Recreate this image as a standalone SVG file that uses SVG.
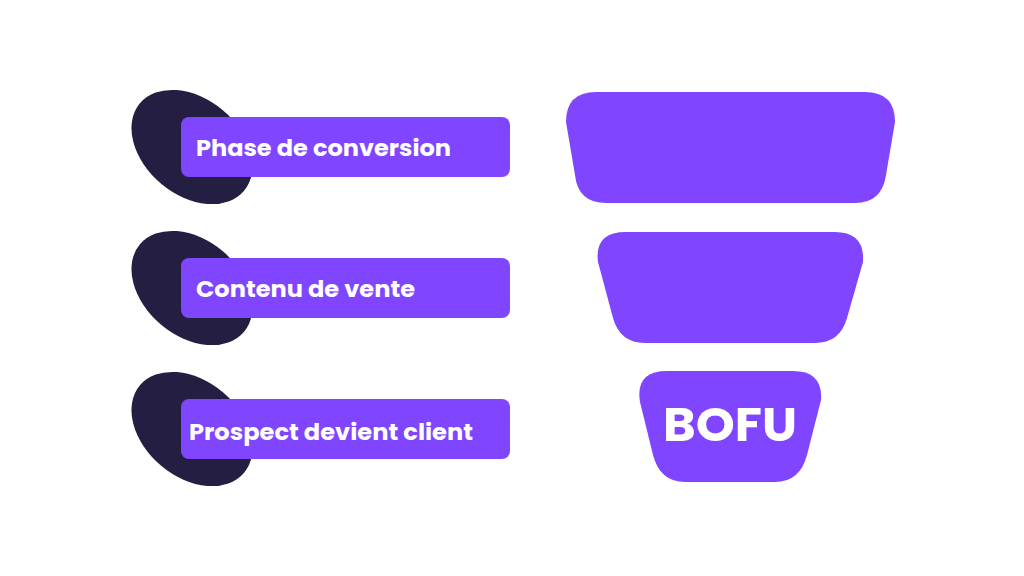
<svg xmlns="http://www.w3.org/2000/svg" width="1024" height="576" viewBox="0 0 1024 576">
<style>
.blob{fill:#241F42}
.lbl{fill:#8046FF}
.lt{fill:#fff;font-family:"Poppins","Open Sans","Liberation Sans",sans-serif;font-weight:700;font-size:22px}
.fun{fill:#8046FF}
.big{fill:#fff;font-family:"Poppins","Open Sans","Liberation Sans",sans-serif;font-weight:700;font-size:48px}
</style>
<rect width="1024" height="576" fill="#fff"/>
<g id="label1">
<ellipse class="blob" cx="192" cy="147" rx="68" ry="48" transform="rotate(40 192 147)"/>
<rect class="lbl" x="181" y="117" width="329" height="60" rx="8"/>
<text class="lt" x="196" y="156" textLength="255" lengthAdjust="spacingAndGlyphs">Phase de conversion</text>
</g>
<g id="label2">
<ellipse class="blob" cx="192" cy="288" rx="68" ry="48" transform="rotate(40 192 288)"/>
<rect class="lbl" x="181" y="258" width="329" height="60" rx="8"/>
<text class="lt" x="196" y="297" textLength="219" lengthAdjust="spacingAndGlyphs">Contenu de vente</text>
</g>
<g id="label3">
<ellipse class="blob" cx="192" cy="429" rx="68" ry="48" transform="rotate(40 192 429)"/>
<rect class="lbl" x="181" y="399" width="329" height="60" rx="8"/>
<text class="lt" x="189" y="440" textLength="284" lengthAdjust="spacingAndGlyphs">Prospect devient client</text>
</g>
<g id="funnel1">
<path class="fun" d="M596,92 H865 Q895,92 895,122 L886,175 Q882,203 855,203 H606 Q578,203 575,175 L566,122 Q566,92 596,92 Z"/>
</g>
<g id="funnel2">
<path class="fun" d="M626,232 H835 Q865,232 863,262 L847,318 Q840,343 815,343 H645 Q620,343 613,318 L598,262 Q594,232 626,232 Z"/>
</g>
<g id="funnel3">
<path class="fun" d="M667,371 H793 Q823,371 821,400 L807,455 Q800,482 775,482 H685 Q660,482 653,455 L640,402 Q635,371 667,371 Z"/>
<text class="big" x="730" y="441" text-anchor="middle" textLength="134" lengthAdjust="spacingAndGlyphs">BOFU</text>
</g>
<g id="connectors"/>
</svg>
